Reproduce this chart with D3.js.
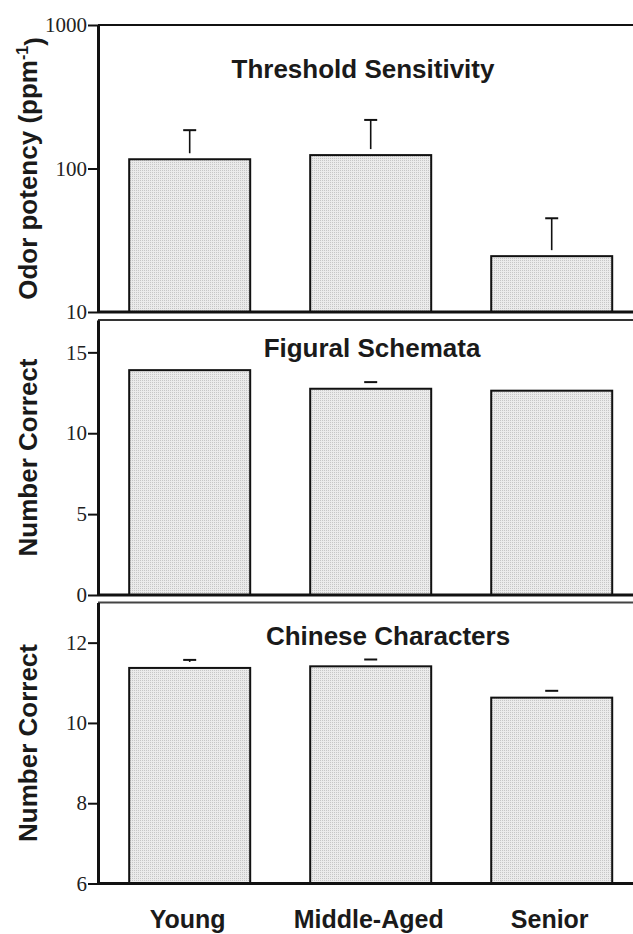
<!DOCTYPE html>
<html>
<head>
<meta charset="utf-8">
<script src="https://cdn.jsdelivr.net/npm/d3@7"></script>
<style>
  body { margin: 0; background: #fff; }
  svg { display: block; }
</style>
</head>
<body>
<div class="chart"></div>
<script>
// categories
var groups = ["Young", "Middle-Aged", "Senior"];

// Threshold Sensitivity (ppm-1), log scale
var thresholdMean = [116, 124, 24.5];
var thresholdErr = [69, 94, 20.5];
var thresholdTicks = [10, 100, 1000];

// Figural Schemata (number correct)
var figuralMean = [13.9, 12.75, 12.63];
var figuralErr = [0, 0.41, 0];
var figuralTicks = [0, 5, 10, 15];

// Chinese Characters (number correct)
var chineseMean = [11.37, 11.41, 10.63];
var chineseErr = [0.2, 0.17, 0.17];
var chineseTicks = [6, 8, 10, 12];

var width = 633, height = 934;
var axisX = 98;

var svg = d3.select(".chart")
  .append("svg")
  .attr("width", width)
  .attr("height", height);

// dotted light grey fill like the print
var defs = svg.append("defs");
var pat = defs.append("pattern")
  .attr("id", "dots")
  .attr("width", 2).attr("height", 2)
  .attr("patternUnits", "userSpaceOnUse");
pat.append("rect").attr("width", 2).attr("height", 2).attr("fill", "#ebebeb");
pat.append("rect").attr("width", 1).attr("height", 1).attr("fill", "#c6c6c6");

var x = d3.scaleBand()
  .domain(groups)
  .range([axisX, width])
  .paddingInner(0.3315)
  .paddingOuter(0.1436)
  .align(0.6);

var panels = [
  { title: "Threshold Sensitivity", ylabel: "Odor potency (ppm", sup: "-1",
    mean: thresholdMean, err: thresholdErr, ticks: thresholdTicks,
    scale: d3.scaleLog().domain([10, 1000]), top: 25, bottom: 312,
    titleX: 363, titleY: 78, topColor: "#111" },
  { title: "Figural Schemata", ylabel: "Number Correct",
    mean: figuralMean, err: figuralErr, ticks: figuralTicks,
    scale: d3.scaleLinear().domain([0, 17]), top: 320, bottom: 595,
    titleX: 372, titleY: 357, topColor: "#333" },
  { title: "Chinese Characters", ylabel: "Number Correct",
    mean: chineseMean, err: chineseErr, ticks: chineseTicks,
    scale: d3.scaleLinear().domain([6, 13]), top: 602.5, bottom: 883.5,
    titleX: 388, titleY: 645, topColor: "#444" }
];

panels.forEach(function(p) {
  var y = p.scale.range([p.bottom, p.top]);
  var g = svg.append("g");
  var rows = groups.map(function(k, i) { return { k: k, m: p.mean[i], e: p.err[i] }; });

  // bars
  g.selectAll("rect.bar")
    .data(rows)
    .enter()
    .append("rect")
    .attr("class", "bar")
    .attr("x", function(d) { return x(d.k); })
    .attr("width", x.bandwidth())
    .attr("y", function(d) { return y(d.m); })
    .attr("height", function(d) { return p.bottom - y(d.m); })
    .attr("fill", "url(#dots)")
    .attr("stroke", "#111")
    .attr("stroke-width", 2);

  // error bars (upper only); the stem stops a few px above the bar
  var eb = g.selectAll("g.err")
    .data(rows.filter(function(d) { return d.e > 0; }))
    .enter()
    .append("g");
  eb.filter(function(d) { return y(d.m) - y(d.m + d.e) > 7; })
    .append("line")
    .attr("x1", function(d) { return x(d.k) + x.bandwidth() / 2; })
    .attr("x2", function(d) { return x(d.k) + x.bandwidth() / 2; })
    .attr("y1", function(d) { return y(d.m) - 6; })
    .attr("y2", function(d) { return y(d.m + d.e); })
    .attr("stroke", "#111")
    .attr("stroke-width", 1.6);
  eb.append("line")
    .attr("x1", function(d) { return x(d.k) + x.bandwidth() / 2 - 6.5; })
    .attr("x2", function(d) { return x(d.k) + x.bandwidth() / 2 + 6.5; })
    .attr("y1", function(d) { return y(d.m + d.e); })
    .attr("y2", function(d) { return y(d.m + d.e); })
    .attr("stroke", "#111")
    .attr("stroke-width", 2);

  // frame: top line and bottom axis
  g.append("line")
    .attr("x1", axisX).attr("x2", width)
    .attr("y1", p.top).attr("y2", p.top)
    .attr("stroke", p.topColor).attr("stroke-width", 2);
  g.append("line")
    .attr("x1", axisX).attr("x2", width)
    .attr("y1", p.bottom).attr("y2", p.bottom)
    .attr("stroke", "#111").attr("stroke-width", 3);

  // y axis
  var ax = g.append("g")
    .attr("transform", "translate(" + axisX + ",0)")
    .call(d3.axisLeft(y)
      .tickValues(p.ticks)
      .tickFormat(d3.format("d"))
      .tickSize(10)
      .tickSizeOuter(0)
      .tickPadding(1));
  ax.select(".domain").attr("stroke", "#111").attr("stroke-width", 3);
  ax.selectAll(".tick line").attr("stroke", "#111").attr("stroke-width", 2);
  ax.selectAll(".tick text")
    .attr("fill", "#222")
    .style("font-family", "'Liberation Serif', 'Times New Roman', serif")
    .style("font-size", "21px");

  // panel title
  g.append("text")
    .attr("x", p.titleX)
    .attr("y", p.titleY)
    .attr("text-anchor", "middle")
    .style("font-family", "'Liberation Sans', Arial, sans-serif")
    .style("font-weight", "bold")
    .style("font-size", "26px")
    .attr("fill", "#1a1a1a")
    .text(p.title);

  // y label
  var yl = g.append("text")
    .attr("transform", "translate(37," + ((p.top + p.bottom) / 2) + ") rotate(-90)")
    .attr("text-anchor", "middle")
    .style("font-family", "'Liberation Sans', Arial, sans-serif")
    .style("font-weight", "bold")
    .style("font-size", "26px")
    .attr("fill", "#1a1a1a");
  yl.append("tspan").text(p.ylabel);
  if (p.sup) {
    yl.append("tspan")
      .attr("dy", "-0.55em")
      .style("font-size", "16px")
      .text(p.sup);
    yl.append("tspan")
      .attr("dy", "0.55em")
      .text(")");
  }
});

// category labels
svg.selectAll("text.cat")
  .data(groups)
  .enter()
  .append("text")
  .attr("class", "cat")
  .attr("x", function(d) { return x(d) + x.bandwidth() / 2 - 2; })
  .attr("y", 928)
  .attr("text-anchor", "middle")
  .style("font-family", "'Liberation Sans', Arial, sans-serif")
  .style("font-weight", "bold")
  .style("font-size", "25px")
  .attr("fill", "#1a1a1a")
  .text(function(d) { return d; });
</script>
</body>
</html>
